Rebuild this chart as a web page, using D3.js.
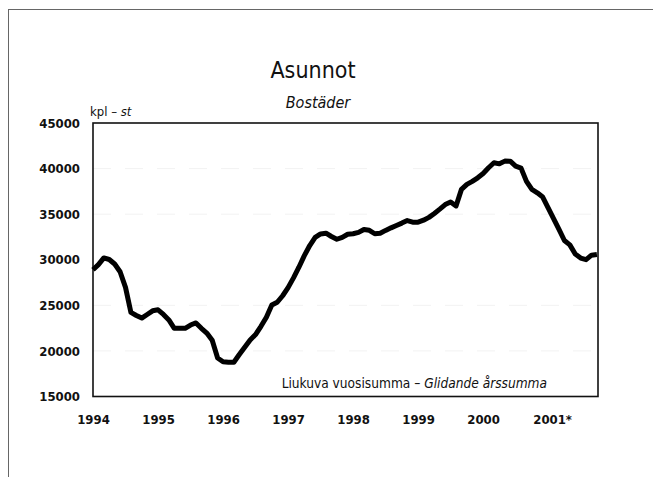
<!DOCTYPE html>
<html><head><meta charset="utf-8">
<script src="https://cdn.jsdelivr.net/npm/d3@7"></script>
<style>
body{margin:0;background:#fff;}
svg{display:block;font-family:"Liberation Sans Narrow","DejaVu Sans Condensed","Arial Narrow",sans-serif;}
</style></head><body>
<svg id="c" width="653" height="477"></svg>
<script>
// Monthly rolling annual sum, Jan 1994 – Oct 2001
const startYear = 1994;
const values = [
 28900,29470,30200,30030,29530,28690,26970,24220,23880,23600,24000,24400,
 24510,24000,23400,22480,22480,22480,22840,23070,22480,21960,21160,19220,
 18810,18750,18760,19600,20400,21200,21800,22700,23700,25030,25340,26050,
 26940,28010,29180,30450,31560,32450,32830,32910,32550,32250,32460,32800,
 32850,33000,33320,33230,32850,32910,33220,33500,33760,34020,34300,34120,
 34120,34340,34650,35080,35550,36050,36330,35900,37720,38270,38600,38990,
 39460,40090,40640,40520,40820,40810,40270,40050,38600,37710,37340,36880,
 35690,34510,33320,32110,31630,30620,30190,30010,30500,30580
];
const yearTicks = [1994,1995,1996,1997,1998,1999,2000,2001];
const yearLabels = ["1994","1995","1996","1997","1998","1999","2000","2001*"];
const yTicks = [15000,20000,25000,30000,35000,40000,45000];
const gridVals = [20000,25000,35000,40000];

const svg = d3.select("#c");
const L = 93, R = 598, T = 123, B = 396.5;
const x = d3.scaleLinear().domain([startYear, startYear + 93.2/12]).range([L, R]);
const y = d3.scaleLinear().domain([15000, 45000]).range([B, T]);

// outer page frame (top and left edges)
svg.append("line").attr("x1",8).attr("x2",653).attr("y1",9.5).attr("y2",9.5).attr("stroke","#666").attr("stroke-width",1);
svg.append("line").attr("x1",8.5).attr("x2",8.5).attr("y1",9).attr("y2",477).attr("stroke","#666").attr("stroke-width",1);

// faint grid
svg.append("g").selectAll("line").data(gridVals).join("line")
  .attr("x1",L).attr("x2",R).attr("y1",d=>y(d)).attr("y2",d=>y(d))
  .attr("stroke","#f2f2f2").attr("stroke-width",1).attr("stroke-dasharray","18,14");

// titles
svg.append("text").attr("x",313).attr("y",78).attr("text-anchor","middle")
  .attr("font-size",23).attr("fill","#111").text("Asunnot");
svg.append("text").attr("x",318).attr("y",108).attr("text-anchor","middle")
  .attr("font-size",16).attr("font-style","italic").attr("fill","#111").text("Bostäder");
const unit = svg.append("text").attr("x",90).attr("y",116).attr("font-size",13).attr("fill","#111");
unit.append("tspan").text("kpl – ");
unit.append("tspan").attr("font-style","italic").text("st");

// y axis labels
const ya = svg.append("g").attr("transform",`translate(${L},0)`)
  .call(d3.axisLeft(y).tickValues(yTicks).tickSize(0).tickPadding(13).tickFormat(d3.format("d")));
ya.select(".domain").remove();
ya.selectAll("text").attr("font-size",13).attr("font-weight","bold").attr("fill","#111")
  .attr("font-family","\"Liberation Sans Narrow\",\"DejaVu Sans Condensed\",sans-serif");

// x axis labels
const xa = svg.append("g").attr("transform",`translate(0,${B})`)
  .call(d3.axisBottom(x).tickValues(yearTicks).tickSize(0).tickPadding(18)
    .tickFormat((d,i)=>yearLabels[i]));
xa.select(".domain").remove();
xa.selectAll("text").attr("font-size",13).attr("font-weight","bold").attr("fill","#111")
  .attr("font-family","\"Liberation Sans Narrow\",\"DejaVu Sans Condensed\",sans-serif");
xa.selectAll(".tick").filter((d,i)=>i===7).select("text").attr("dx",4);

// plot frame
svg.append("rect").attr("x",L).attr("y",T).attr("width",R-L).attr("height",B-T)
  .attr("fill","none").attr("stroke","#111").attr("stroke-width",1.6);

// data line
svg.append("path").datum(values)
  .attr("d", d3.line().x((d,i)=>x(startYear + i/12)).y(d=>y(d)))
  .attr("fill","none").attr("stroke","#000").attr("stroke-width",5)
  .attr("stroke-linejoin","round").attr("stroke-linecap","butt");

// annotation
const ann = svg.append("text").attr("x",547).attr("y",388).attr("text-anchor","end")
  .attr("font-size",13.6).attr("fill","#111");
ann.append("tspan").text("Liukuva vuosisumma – ");
ann.append("tspan").attr("font-style","italic").text("Glidande årssumma");
</script>
</body></html>
